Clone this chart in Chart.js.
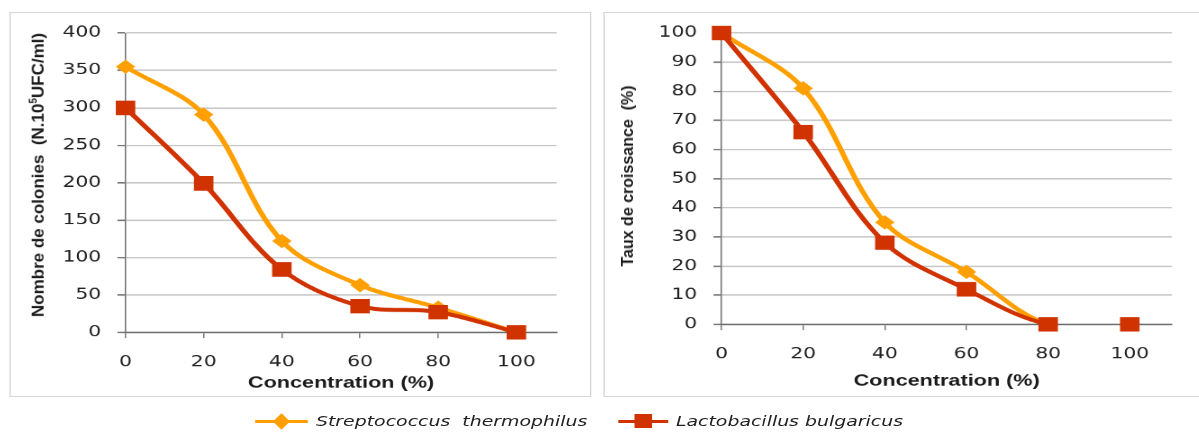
<!DOCTYPE html>
<html lang="fr">
<head>
<meta charset="utf-8">
<title>Colonies et taux de croissance</title>
<script src="https://cdn.jsdelivr.net/npm/chart.js@4"></script>
<style>
  body { margin: 0; background: #fff; width: 1199px; height: 432px; overflow: hidden; position: relative; }
  /* the reference is stretched horizontally, so everything is drawn narrow then widened */
  #stage { position: absolute; left: 0; top: 0; width: 888px; height: 432px; transform: scaleX(1.35); transform-origin: 0 0; }
  .box { position: absolute; top: 12px; height: 385px; border: 1.5px solid #d6d6d6; box-sizing: border-box; }
  .cv { position: absolute; top: 12px; height: 385px; }
  .ytitle { position: absolute; transform: translate(-50%, -50%) rotate(-90deg); white-space: nowrap;
            font: bold 16px "Liberation Sans", Arial, sans-serif; color: #1a1a1a; }
  .ytitle sup { font-size: 10px; }
  .leg { position: absolute; top: 412px; font: italic 14px "DejaVu Sans", sans-serif; color: #222; white-space: nowrap; line-height: 18px; }
  .lline { position: absolute; height: 3px; top: 420px; }
</style>
</head>
<body>
<div id="stage">
  <div class="box" style="left:6.7px; width:431px"></div>
  <div class="box" style="left:447.4px; width:450px"></div>
  <div class="cv" style="left:6.7px; width:431px"><canvas id="chartL" width="431" height="385"></canvas></div>
  <div class="cv" style="left:447.4px; width:441px"><canvas id="chartR" width="441" height="385"></canvas></div>
  <div id="legend"></div>
</div>
<div class="ytitle" style="left:38px; top:175px; font-size:17px">Nombre de colonies&nbsp; (N.10<sup>5</sup>UFC/ml)</div>
<div class="ytitle" style="left:628px; top:176px">Taux de croissance&nbsp; (%)</div>
<script>
// concentrations (%)
const concentrations = [0, 20, 40, 60, 80, 100];
// nombre de colonies (N.10^5 UFC/ml)
const strepColonies = [355, 291, 122, 63, 33, 0];
const lactoColonies = [300, 199, 84, 35, 27, 0];
// taux de croissance (%)
const strepGrowth = [100, 81, 35, 18, 0, 0];
const lactoGrowth = [100, 66, 28, 12, 0, 0];

const SERIES = [
  { label: 'Streptococcus  thermophilus', color: '#FFA000', style: 'rectRot', radius: 6.5 },
  { label: 'Lactobacillus bulgaricus',    color: '#D03300', style: 'rect',    radius: 9.5 },
];

const pts = (vals) => vals.map((v, i) => ({ x: concentrations[i], y: v }));

// hide = index of the segment start to leave undrawn (right chart has no 80->100 line)
const ds = (s, vals, order, hide) => ({
  label: s.label, data: pts(vals), order,
  borderColor: s.color, backgroundColor: s.color,
  pointBackgroundColor: s.color, pointBorderColor: s.color,
  borderWidth: 4, tension: 0.35, clip: false,
  pointStyle: s.style, pointRadius: s.radius, pointBorderWidth: 1,
  segment: hide == null ? {} : { borderColor: c => c.p0DataIndex === hide ? 'rgba(0,0,0,0)' : undefined },
});

function makeChart(id, a, b, yMax, yStep, geo, hide) {
  return new Chart(document.getElementById(id), {
    type: 'line',
    data: { datasets: [ds(SERIES[0], a, 1, hide), ds(SERIES[1], b, 0, hide)] },
    options: {
      responsive: false, animation: false, devicePixelRatio: 1.5,
      layout: { padding: { top: 19, right: geo.right, bottom: 0, left: 0 } },
      plugins: { legend: { display: false }, tooltip: { enabled: false } },
      scales: {
        x: {
          type: 'linear', min: 0, max: 110.3,
          afterBuildTicks: s => { s.ticks = concentrations.map(v => ({ value: v })); },
          afterFit: s => { s.height = geo.xh; },
          grid: { drawOnChartArea: false, tickLength: 6, tickColor: '#7a7a7a', lineWidth: 1 },
          border: { color: '#6e6e6e', width: 1.5 },
          ticks: { padding: 15, color: '#222', font: { family: 'DejaVu Sans', size: 15 } },
          title: { display: true, text: 'Concentration (%)', color: '#1a1a1a',
                   padding: { top: 0, bottom: geo.tpad }, font: { family: 'Liberation Sans', size: 16, weight: 'bold' } },
        },
        y: {
          min: 0, max: yMax,
          afterFit: s => { s.width = geo.yw; },
          grid: { color: '#c9c9c9', lineWidth: 1.5, tickLength: 6, tickColor: '#7a7a7a' },
          border: { color: '#6e6e6e', width: 1 },
          ticks: { stepSize: yStep, padding: 12, color: '#222', font: { family: 'DejaVu Sans', size: 15 } },
        },
      },
    },
  });
}

makeChart('chartL', strepColonies, lactoColonies, 400, 50, { right: 26, xh: 65, yw: 85.9, tpad: 4.4 }, null);
makeChart('chartR', strepGrowth, lactoGrowth, 100, 10, { right: 20.3, xh: 73, yw: 87.4, tpad: 6.4 }, 4);

// legende commune sous les deux graphiques
const LEG = [
  { line: [188.9, 228.1], mark: 208.5, text: 234 },
  { line: [457.8, 494.8], mark: 476.3, text: 500.7 },
];
const legend = document.getElementById('legend');
legend.innerHTML = SERIES.map((s, i) => {
  const g = LEG[i];
  const mk = s.style === 'rect'
    ? '<div style="position:absolute;left:' + (g.mark - 6.5) + 'px;top:414px;width:13px;height:14px;background:' + s.color + '"></div>'
    : '<div style="position:absolute;left:' + (g.mark - 4.5) + 'px;top:416.5px;width:9px;height:9px;background:' + s.color + ';transform:scaleY(1.3) rotate(45deg)"></div>';
  return '<div class="lline" style="left:' + g.line[0] + 'px;width:' + (g.line[1] - g.line[0]) + 'px;background:' + s.color + '"></div>' + mk +
    '<div class="leg" style="left:' + g.text + 'px">' + s.label.replace('  ', '&nbsp; ') + '</div>';
}).join('');
</script>
</body>
</html>
